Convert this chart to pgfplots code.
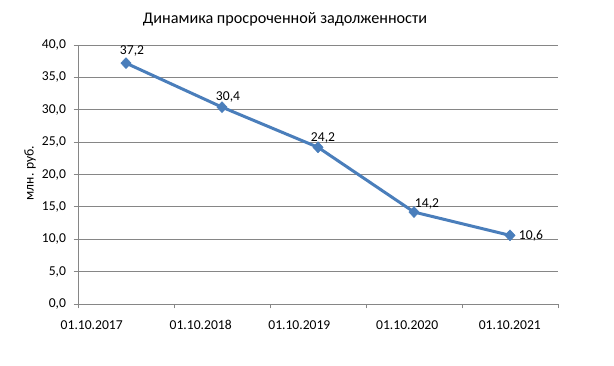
\documentclass[border=0pt]{standalone}
\usepackage{pgfplots}
\pgfplotsset{compat=1.18}
\usepackage{pgfplotstable}
\usepackage{fontspec}
\setmainfont{Carlito}
\definecolor{serblue}{HTML}{4A7EBB}
\definecolor{gridgray}{HTML}{868686}
\pgfplotstableread{
x y dx dy
0.5 37.2 6 12
1.5 30.4 6 10
2.5 24.2 5 9
3.5 14.2 13 8
4.5 10.6 21 0
}\debt
\begin{document}
\begin{tikzpicture}[x=1pt,y=1pt]
\path[use as bounding box] (0,0) rectangle (614,366);
\begin{axis}[
  at={(78pt,62pt)}, anchor=south west,
  scale only axis, width=480pt, height=259pt,
  xmin=0, xmax=5, ymin=0, ymax=40,
  axis x line*=bottom, axis y line*=left,
  axis line style={gridgray, line width=0.8pt, -},
  xtick={0,1,2,3,4,5}, xticklabels={},
  extra x ticks={0.143,1.278,2.306,3.429,4.498},
  extra x tick labels={01.10.2017,01.10.2018,01.10.2019,01.10.2020,01.10.2021},
  extra x tick style={major tick length=0pt, tick style={draw=none}, xticklabel style={yshift=-13pt}},
  ytick={0,5,...,40},
  ymajorgrids, grid style={gridgray, line width=0.8pt},
  tick style={gridgray, line width=0.8pt},
  tick align=outside, major tick length=4.5pt,
  /pgf/number format/assume math mode=true,
  yticklabel={\pgfmathprintnumber[fixed,precision=1,zerofill,use comma]{\tick}},
  yticklabel style={xshift=-4pt},
  ticklabel style={font=\fontsize{13.6}{16}\selectfont, text=black},
  clip=false,
]
\addplot[serblue, line width=3pt, mark=diamond*, mark size=5.5pt,
  mark options={fill=serblue, draw=serblue, line width=0.5pt, xscale=1.25},
  point meta=y,
  visualization depends on={\thisrow{dx} \as \dx},
  visualization depends on={\thisrow{dy} \as \dy},
  nodes near coords={\pgfmathprintnumber[fixed,precision=1,zerofill,use comma]{\pgfplotspointmeta}},
  nodes near coords style={anchor=center, xshift=\dx pt, yshift=\dy pt, text=black, font=\fontsize{13.6}{16}\selectfont},
] table[x=x,y=y] {\debt};
\end{axis}
\node[font=\fontsize{16.2}{19}\selectfont] at (285,347) {Динамика просроченной задолженности};
\node[rotate=90, font=\fontsize{13.6}{16}\selectfont] at (30,193) {млн. руб.};
\end{tikzpicture}
\end{document}
